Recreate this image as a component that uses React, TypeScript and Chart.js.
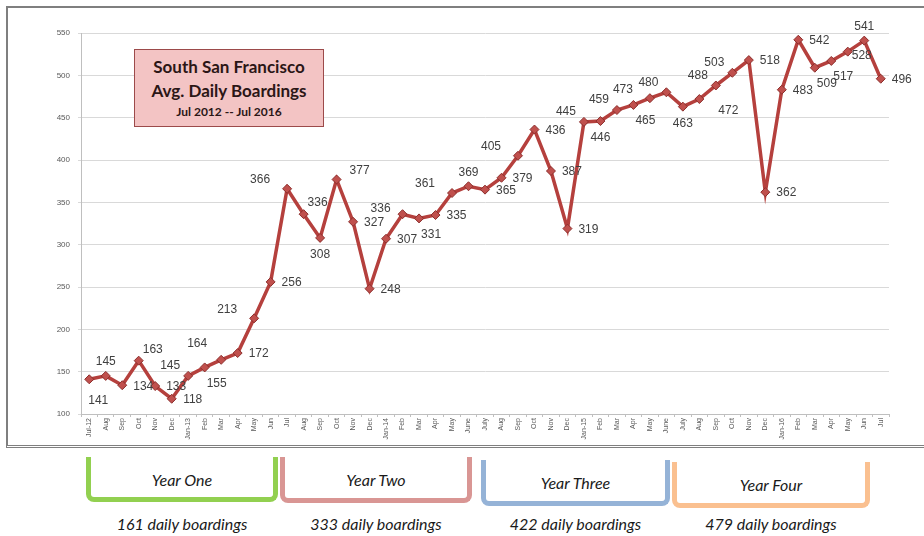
import React, { useEffect, useRef } from "react";
import { Chart, registerables } from "chart.js";

Chart.register(...registerables);

const monthLabels: string[] = [
  "Jul-12", "Aug", "Sep", "Oct", "Nov", "Dec", "Jan-13", "Feb", "Mar", "Apr", "May", "Jun",
  "Jul", "Aug", "Sep", "Oct", "Nov", "Dec", "Jan-14", "Feb", "Mar", "Apr", "May", "June",
  "July", "Aug", "Sep", "Oct", "Nov", "Dec", "Jan-15", "Feb", "Mar", "Apr", "May", "June",
  "July", "Aug", "Sep", "Oct", "Nov", "Dec", "Jan-16", "Feb", "Mar", "Apr", "May", "Jun",
  "Jul",
];

const boardings: number[] = [
  141, 145, 134, 163, 133, 118, 145, 155, 164, 172, 213, 256,
  366, 336, 308, 377, 327, 248, 307, 336, 331, 335, 361, 369,
  365, 379, 405, 436, 387, 319, 445, 446, 459, 465, 473, 480,
  463, 472, 488, 503, 518, 362, 483, 542, 509, 517, 528, 541,
  496,
];

// where each value label sits relative to its point
const labelPlacement: string[] = [
  "bb", "a", "r", "ar", "r", "r", "al", "br", "alh", "r", "alf", "r",
  "alf", "ar", "b", "arf", "r", "r", "r", "l", "br", "r", "alf", "a",
  "r", "r", "alf", "r", "r", "r", "al", "b", "al", "br", "alf", "al",
  "b", "brf", "al", "al", "r", "r", "r", "r", "br", "br", "rn", "a",
  "r",
];

const placementOffsets: Record<string, [number, number]> = {
  r: [21, 1],
  rn: [14, 4],
  a: [0, -14],
  b: [0, 17],
  bb: [9, 21],
  al: [-18, -10],
  alh: [-24, -16],
  alf: [-27, -9],
  ar: [14, -11],
  arf: [23, -9],
  br: [12, 16],
  brf: [29, 12],
  l: [-22, -5],
};

const yearBrackets = [
  { name: "Year One", avg: "161 daily boardings", color: "#92d050", left: 86, right: 278, top: 457, bottom: 502 },
  { name: "Year Two", avg: "333 daily boardings", color: "#d99694", left: 280, right: 472, top: 457, bottom: 503 },
  { name: "Year Three", avg: "422 daily boardings", color: "#95b3d7", left: 481, right: 670, top: 460, bottom: 506 },
  { name: "Year Four", avg: "479 daily boardings", color: "#fac090", left: 672, right: 870, top: 462, bottom: 508 },
];

const valueLabelPlugin = {
  id: "valueLabels",
  afterDatasetsDraw(chart: any) {
    const ctx = chart.ctx;
    const meta = chart.getDatasetMeta(0);
    ctx.save();
    ctx.font = "12px 'Liberation Sans', Arial, sans-serif";
    ctx.fillStyle = "#404040";
    ctx.textAlign = "center";
    ctx.textBaseline = "middle";
    meta.data.forEach((pt: any, i: number) => {
      const off = placementOffsets[labelPlacement[i]] || [0, -14];
      ctx.fillText(String(boardings[i]), pt.x + off[0], pt.y + off[1]);
    });
    ctx.restore();
  },
};

export default function App() {
  const canvasRef = useRef<HTMLCanvasElement | null>(null);

  useEffect(() => {
    if (!canvasRef.current) return;
    const chart = new Chart(canvasRef.current, {
      type: "line",
      data: {
        labels: monthLabels,
        datasets: [
          {
            data: boardings,
            borderColor: "#b5403d",
            borderWidth: 3.5,
            pointStyle: "rectRot",
            pointRadius: 4.5,
            pointBackgroundColor: "#c0504d",
            pointBorderColor: "#8c2f2d",
            pointBorderWidth: 1,
            tension: 0,
          },
        ],
      },
      options: {
        animation: false,
        responsive: false,
        maintainAspectRatio: false,
        layout: { padding: { left: 0, right: 35, top: 33, bottom: 0 } },
        plugins: {
          legend: { display: false },
          tooltip: { enabled: false },
          title: { display: false },
        },
        scales: {
          x: {
            type: "category",
            offset: true,
            grid: {
              display: true,
              drawOnChartArea: false,
              drawTicks: true,
              tickLength: 3,
              offset: true,
              color: "#bfbfbf",
            },
            border: { color: "#bfbfbf" },
            ticks: {
              autoSkip: false,
              minRotation: 90,
              maxRotation: 90,
              padding: 1,
              color: "#595959",
              font: { size: 7, family: "'Liberation Sans', Arial, sans-serif" },
            },
            afterFit: (scale: any) => {
              scale.height = 34;
            },
          },
          y: {
            min: 100,
            max: 550,
            ticks: {
              stepSize: 50,
              padding: 8,
              color: "#595959",
              font: { size: 8, family: "'Liberation Sans', Arial, sans-serif" },
            },
            grid: {
              color: "#d9d9d9",
              tickLength: 3,
              drawTicks: true,
            },
            border: { color: "#bfbfbf" },
            afterFit: (scale: any) => {
              scale.width = 81;
            },
          },
        },
      },
      plugins: [valueLabelPlugin],
    });
    return () => chart.destroy();
  }, []);

  return (
    <div
      style={{
        position: "absolute",
        left: 0,
        top: 0,
        width: 924,
        height: 536,
        background: "#ffffff",
        overflow: "hidden",
        fontFamily: "Lato, 'Liberation Sans', sans-serif",
      }}
    >
      <div
        style={{
          position: "absolute",
          left: 6,
          top: 6,
          width: 918,
          height: 442,
          borderLeft: "2px solid #7f7f7f",
          borderTop: "2px solid #7f7f7f",
          borderBottom: "3px double #7f7f7f",
          boxSizing: "border-box",
        }}
      />
      <canvas
        ref={canvasRef}
        width={924}
        height={448}
        style={{ position: "absolute", left: 0, top: 0, width: 924, height: 448 }}
      />
      <div
        style={{
          position: "absolute",
          left: 134,
          top: 49,
          width: 190,
          height: 78,
          boxSizing: "border-box",
          background: "#f3c4c4",
          border: "1px solid #9c4a4a",
          color: "#2b1616",
          textAlign: "center",
          fontWeight: 700,
        }}
      >
        <div style={{ fontSize: 17, lineHeight: "24px", marginTop: 5 }}>South San Francisco</div>
        <div style={{ fontSize: 17, lineHeight: "24px" }}>Avg. Daily Boardings</div>
        <div style={{ fontSize: 12, lineHeight: "18px" }}>Jul 2012 -- Jul 2016</div>
      </div>
      {yearBrackets.map((b) => (
        <React.Fragment key={b.name}>
          <div
            style={{
              position: "absolute",
              left: b.left,
              top: b.top,
              width: b.right - b.left,
              height: b.bottom - b.top,
              boxSizing: "border-box",
              borderLeft: `5px solid ${b.color}`,
              borderRight: `5px solid ${b.color}`,
              borderBottom: `5px solid ${b.color}`,
              borderBottomLeftRadius: 8,
              borderBottomRightRadius: 8,
            }}
          />
          <div
            style={{
              position: "absolute",
              left: b.left,
              width: b.right - b.left,
              top: b.top + 13,
              textAlign: "center",
              fontStyle: "italic",
              fontSize: 16,
              lineHeight: "20px",
              color: "#1a1a1a",
            }}
          >
            {b.name}
          </div>
          <div
            style={{
              position: "absolute",
              left: b.left - 10,
              width: b.right - b.left + 20,
              top: 513,
              textAlign: "center",
              fontStyle: "italic",
              fontSize: 16,
              lineHeight: "22px",
              color: "#1a1a1a",
            }}
          >
            {b.avg}
          </div>
        </React.Fragment>
      ))}
    </div>
  );
}
